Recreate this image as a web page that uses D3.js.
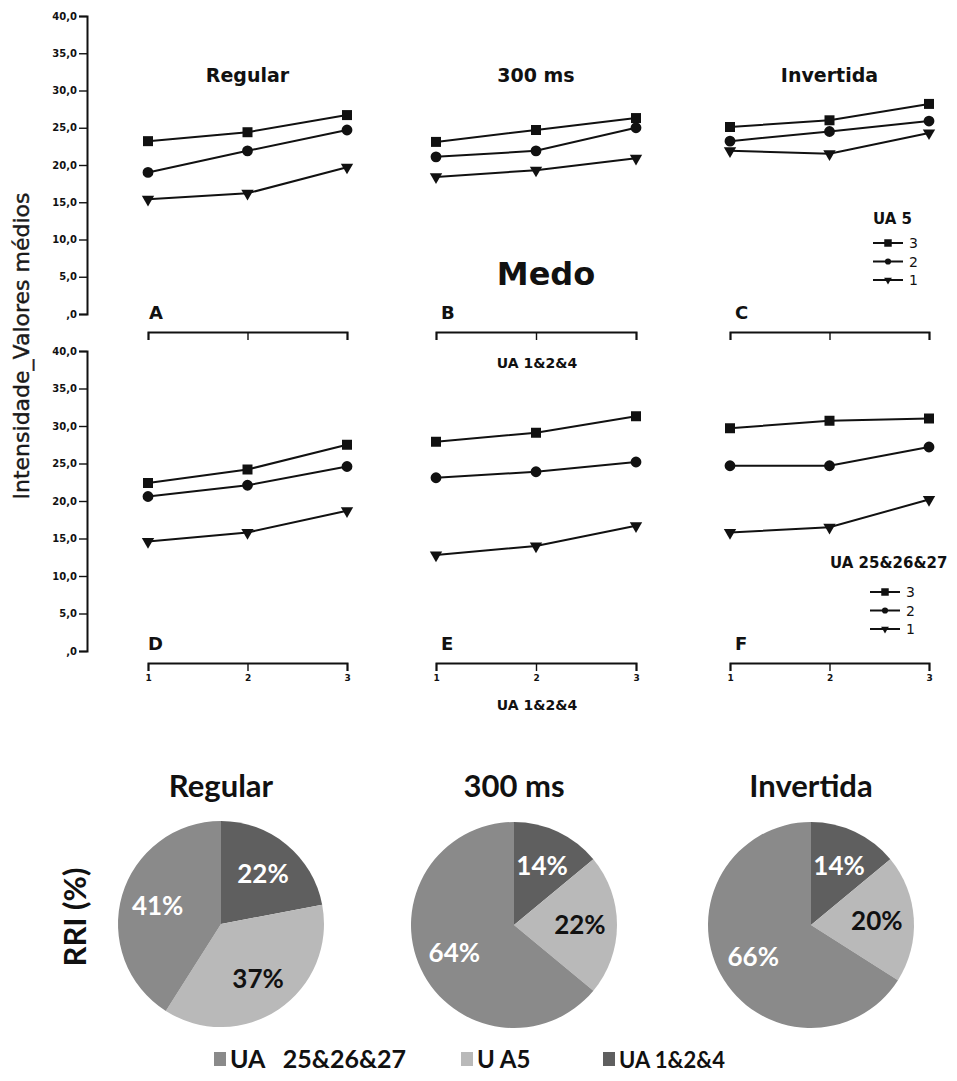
<!DOCTYPE html>
<html>
<head>
<meta charset="utf-8">
<script src="https://cdn.jsdelivr.net/npm/d3@7/dist/d3.min.js"></script>
<style>
  body { margin: 0; background: #fff; }
  svg { display: block; }
  .lc text { font-family: "DejaVu Sans", sans-serif; fill: #111; }
  .pc text { font-family: Lato, "Open Sans", sans-serif; font-weight: 700; }
</style>
</head>
<body>
<svg id="fig" width="957" height="1081"></svg>
<script>
// ---- data -------------------------------------------------------------
const xLevels = [1, 2, 3];                 // UA 1&2&4 intensity level
const seriesNames = ["3", "2", "1"];       // legend group levels
const conditionTitles = ["Regular", "300 ms", "Invertida"];
const panelLetters = ["A", "B", "C", "D", "E", "F"];
const yTickValues = [0, 5, 10, 15, 20, 25, 30, 35, 40];

// mean intensity, rows = group 3, 2, 1 ; columns = UA 1&2&4 level 1..3
// top row grouped by UA 5
const panelA = [[23.2, 24.4, 26.7], [19.0, 21.9, 24.7], [15.4, 16.2, 19.7]];
const panelB = [[23.1, 24.7, 26.3], [21.1, 21.9, 25.0], [18.4, 19.3, 20.9]];
const panelC = [[25.1, 26.0, 28.2], [23.2, 24.5, 25.9], [21.9, 21.5, 24.3]];
// bottom row grouped by UA 25&26&27
const panelD = [[22.4, 24.2, 27.5], [20.6, 22.1, 24.6], [14.6, 15.8, 18.7]];
const panelE = [[27.9, 29.1, 31.3], [23.1, 23.9, 25.2], [12.8, 14.0, 16.7]];
const panelF = [[29.7, 30.7, 31.0], [24.7, 24.7, 27.2], [15.8, 16.5, 20.2]];

// RRI (%) per action-unit group
const pieCategories = ["UA 1&2&4", "U A5", "UA 25&26&27"];
const rriRegular = [22, 37, 41];
const rri300ms = [14, 22, 64];
const rriInvertida = [14, 20, 66];
const legendLabels = ["UA   25&26&27", "U A5", "UA 1&2&4"];

// ---- layout -----------------------------------------------------------
const svg = d3.select("#fig");
svg.append("rect").attr("width", 957).attr("height", 1081).attr("fill", "#fff");

const lc = svg.append("g").attr("class", "lc");
const axisX = 87;
const colRanges = [[148, 347], [436, 636], [730, 929]];
const rows = [
  { range: [314, 16], axisY: 332, showLabels: false, panels: [panelA, panelB, panelC] },
  { range: [651, 351], axisY: 663, showLabels: true,  panels: [panelD, panelE, panelF] }
];

const markerShapes = [d3.symbolSquare, d3.symbolCircle, d3.symbolTriangle];
const markerSizes = [100, 92, 66];
const markerRot = [0, 0, 180];

function yFmt(v) { return v === 0 ? ",0" : v.toFixed(1).replace(".", ","); }

rows.forEach((row, ri) => {
  const y = d3.scaleLinear().domain([0, 40]).range(row.range);
  const yAxis = lc.append("g")
    .attr("transform", `translate(${axisX},0)`)
    .call(d3.axisLeft(y).tickValues(yTickValues).tickFormat(yFmt).tickSize(8).tickPadding(2));
  yAxis.select(".domain").attr("stroke", "#111").attr("stroke-width", 2);
  yAxis.selectAll(".tick line").attr("stroke", "#111").attr("stroke-width", 1.4);
  yAxis.selectAll(".tick text").attr("font-size", 10).attr("font-weight", 700)
    .attr("font-family", "DejaVu Sans").attr("fill", "#111");

  row.panels.forEach((data, ci) => {
    const x = d3.scaleLinear().domain([1, 3]).range(colRanges[ci]);
    const xAxis = lc.append("g")
      .attr("transform", `translate(0,${row.axisY})`)
      .call(d3.axisBottom(x).tickValues(xLevels).tickFormat(row.showLabels ? d3.format("d") : () => "")
        .tickSize(8).tickSizeOuter(8).tickPadding(4));
    xAxis.select(".domain").attr("stroke", "#111").attr("stroke-width", 2);
    xAxis.selectAll(".tick line").attr("stroke", "#111").attr("stroke-width", 1.4);
    xAxis.selectAll(".tick text").attr("font-size", 9).attr("font-weight", 700)
      .attr("font-family", "DejaVu Sans").attr("fill", "#111");

    const line = d3.line().x((d, i) => x(xLevels[i])).y(d => y(d));
    data.forEach((vals, si) => {
      lc.append("path").attr("d", line(vals)).attr("fill", "none")
        .attr("stroke", "#111").attr("stroke-width", 2);
      lc.selectAll(null).data(vals).join("path")
        .attr("d", d3.symbol(markerShapes[si], markerSizes[si]))
        .attr("transform", (d, i) => `translate(${x(xLevels[i])},${y(d)}) rotate(${markerRot[si]})`)
        .attr("fill", "#111");
    });

    // panel letter
    lc.append("text").attr("x", colRanges[ci][0] + (ci === 0 ? 1 : 5) - (ri === 1 && ci === 0 ? 1 : 0))
      .attr("y", row.axisY - 13)
      .attr("font-size", 18).attr("font-weight", 700)
      .text(panelLetters[ri * 3 + ci]);
  });
});

// condition titles above the top row
conditionTitles.forEach((t, ci) => {
  lc.append("text").attr("x", (colRanges[ci][0] + colRanges[ci][1]) / 2).attr("y", 82)
    .attr("text-anchor", "middle").attr("font-size", 19).attr("font-weight", 700).text(t);
});

// emotion label and x-axis titles
lc.append("text").attr("x", 546).attr("y", 285).attr("text-anchor", "middle")
  .attr("font-size", 32).attr("font-weight", 700).text("Medo");
lc.append("text").attr("x", 537).attr("y", 368).attr("text-anchor", "middle")
  .attr("font-size", 14).attr("font-weight", 700).text("UA 1&2&4");
lc.append("text").attr("x", 537).attr("y", 710).attr("text-anchor", "middle")
  .attr("font-size", 14).attr("font-weight", 700).text("UA 1&2&4");

// y-axis title
lc.append("text").attr("transform", "translate(29,346) rotate(-90)")
  .attr("text-anchor", "middle").attr("font-size", 22)
  .style("fill", "#1a1a1a").attr("stroke", "#1a1a1a").attr("stroke-width", 0.4)
  .text("Intensidade_Valores médios");

// legends
function drawLegend(title, tx, ty, lx, ly) {
  lc.append("text").attr("x", tx).attr("y", ty).attr("font-size", 15).attr("font-weight", 700).text(title);
  const legShapes = [[d3.symbolSquare, 56, 0], [d3.symbolCircle, 30, 0], [d3.symbolTriangle, 26, 180]];
  seriesNames.forEach((n, i) => {
    const yy = ly + i * 18.5;
    lc.append("line").attr("x1", lx).attr("x2", lx + 30).attr("y1", yy).attr("y2", yy)
      .attr("stroke", "#111").attr("stroke-width", 2);
    lc.append("path").attr("d", d3.symbol(legShapes[i][0], legShapes[i][1]))
      .attr("transform", `translate(${lx + 15},${yy}) rotate(${legShapes[i][2]})`).attr("fill", "#111");
    lc.append("text").attr("x", lx + 36).attr("y", yy + 5).attr("font-size", 14).text(n);
  });
}
drawLegend("UA 5", 873, 224, 873, 243);
drawLegend("UA 25&26&27", 830, 568, 870, 592);

// ---- pie charts -------------------------------------------------------
const pc = svg.append("g").attr("class", "pc");
const pieColors = ["#5f5f5f", "#b9b9b9", "#8a8a8a"];
const pieTextColors = ["#fff", "#111", "#fff"];
const pieSets = [rriRegular, rri300ms, rriInvertida];
const pieCenters = [[221, 924], [514, 925], [811, 925]];
const radius = 103;
const pie = d3.pie().sort(null).value(d => d);
const arc = d3.arc().innerRadius(0).outerRadius(radius);
const labelArc = d3.arc().innerRadius(radius * 0.64).outerRadius(radius * 0.64);

pieSets.forEach((vals, pi) => {
  const g = pc.append("g").attr("transform", `translate(${pieCenters[pi][0]},${pieCenters[pi][1]})`);
  const arcs = pie(vals);
  g.selectAll("path").data(arcs).join("path")
    .attr("d", arc).attr("fill", (d, i) => pieColors[i]);
  g.selectAll("text").data(arcs).join("text")
    .attr("transform", d => `translate(${labelArc.centroid(d)})`)
    .attr("text-anchor", "middle").attr("dy", "0.36em")
    .attr("font-size", 26).attr("fill", (d, i) => pieTextColors[i])
    .text(d => d.data + "%");
  pc.append("text").attr("x", pieCenters[pi][0]).attr("y", 797).attr("text-anchor", "middle")
    .attr("font-size", 31).attr("fill", "#111").text(conditionTitles[pi]);
});

pc.append("text").attr("transform", "translate(86,917) rotate(-90)").attr("text-anchor", "middle")
  .attr("font-size", 31).attr("fill", "#111").text("RRI (%)");

// pie legend (order: UA 25&26&27, U A5, UA 1&2&4)
const legendOrder = [2, 1, 0];
const legendX = [214, 461, 603];
const legendSize = [25, 24, 22];
legendOrder.forEach((ci, k) => {
  pc.append("rect").attr("x", legendX[k]).attr("y", 1052).attr("width", 12).attr("height", 14)
    .attr("fill", pieColors[ci]);
  pc.append("text").attr("x", legendX[k] + 16).attr("y", 1068).attr("font-size", legendSize[k])
    .attr("fill", "#111").style("white-space", "pre").text(legendLabels[k]);
});
</script>
</body>
</html>
